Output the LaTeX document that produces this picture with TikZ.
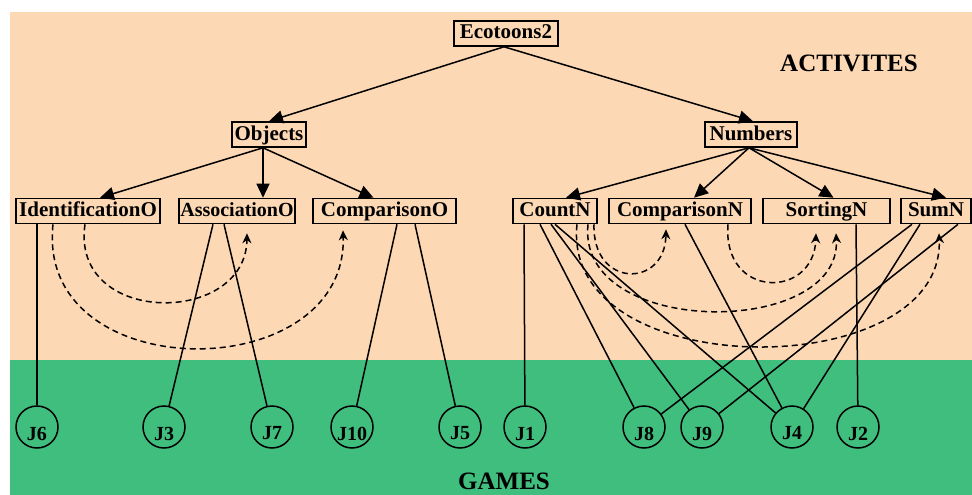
\documentclass[tikz,border=0pt]{standalone}
\usepackage{fontspec}
\setmainfont{Liberation Serif}
\usetikzlibrary{arrows.meta,calc}
\definecolor{peach}{HTML}{FDD8B4}
\definecolor{gamegreen}{HTML}{40BE7E}
\begin{document}
\begin{tikzpicture}[x=1pt,y=-1pt,
  act/.style={draw, line width=1.6pt, fill=peach, inner sep=0pt, minimum height=25pt, text height=15pt, text depth=4pt, font=\fontsize{21}{24}\selectfont\bfseries},
  game/.style={draw, circle, line width=1.5pt, inner sep=0pt, minimum size=42pt},
  glabel/.style={font=\fontsize{20}{24}\selectfont\bfseries, inner sep=0pt},
  tree/.style={line width=1.5pt, -{Triangle[length=14pt,width=13pt]}},
  link/.style={line width=1.5pt},
  rel/.style={line width=1.5pt, dash pattern=on 6pt off 4pt, -{Stealth[length=10pt,width=9pt]}},
  big/.style={font=\fontsize{25}{30}\selectfont\bfseries, inner sep=0pt}
]
\useasboundingbox (0,0) rectangle (972,495);
\fill[peach] (10,12) rectangle (972,360);
\fill[gamegreen] (10,360) rectangle (972,495);

% activity boxes
\node[act, minimum width=104pt] (eco) at (506,33.5) {Ecotoons2};
\node[act, minimum width=74pt] (obj) at (269,134.5) {Objects};
\node[act, minimum width=92pt] (num) at (751,134.5) {Numbers};
\node[act, minimum width=144pt] (ido) at (88,211) {IdentificationO};
\node[act, minimum width=116pt, font=\fontsize{20}{24}\selectfont\bfseries] (aso) at (237,211) {AssociationO};
\node[act, minimum width=143pt] (cpo) at (384.5,211) {ComparisonO};
\node[act, minimum width=84pt] (cn) at (555,211) {CountN};
\node[act, minimum width=142pt] (cpn) at (680,211) {ComparisonN};
\node[act, minimum width=127pt] (srt) at (826.5,211) {SortingN};
\node[act, minimum width=70pt] (sum) at (936,211) {SumN};

% games
\foreach \n/\x in {J6/37,J3/164,J7/272,J10/352,J5/460,J1/525,J8/644,J9/702,J4/792,J2/858}{
  \node[game] (\n) at (\x,427) {};
  \node[glabel] (\n t) at ($(\n)+(0,6.5)$) {\n};
}

\node[big] (acttitle) at (849,63) {ACTIVITES};
\node[big] (gametitle) at (504,481) {GAMES};

% tree edges
\draw[tree] ($(eco.south)+(-2,0)$) -- (obj.north);
\draw[tree] ($(eco.south)+(-2,0)$) -- ($(num.north)+(2,0)$);
\draw[tree] ($(obj.south)+(-6,0)$) -- ($(ido.north)+(12,0)$);
\draw[tree] ($(obj.south)+(-6,0)$) -- ($(aso.north)+(26,0)$);
\draw[tree] ($(obj.south)+(-6,0)$) -- ($(cpo.north)+(-11,0)$);
\draw[tree] ($(num.south)+(-2,0)$) -- ($(cn.north)+(11,0)$);
\draw[tree] ($(num.south)+(-2,0)$) -- ($(cpn.north)+(14,0)$);
\draw[tree] ($(num.south)+(-2,0)$) -- ($(srt.north)+(7,0)$);
\draw[tree] ($(num.south)+(-2,0)$) -- ($(sum.north)+(10,0)$);

% activity -> game links
\draw[link] ($(ido.south)+(-51,0)$) -- (J6);
\draw[link] ($(aso.south)+(-24,0)$) -- (J3);
\draw[link] ($(aso.south)+(-13,0)$) -- (J7);
\draw[link] ($(cpo.south)+(12.5,0)$) -- (J10);
\draw[link] ($(cpo.south)+(30.5,0)$) -- (J5);
\draw[link] ($(cn.south)+(-31,0)$) -- (J1);
\draw[link] ($(cn.south)+(-15,0)$) -- (J8);
\draw[link] ($(cn.south)+(-4,0)$) -- (J9);
\draw[link] ($(cn.south)+(0,0)$) -- (J4);
\draw[link] ($(cpn.south)+(5,0)$) -- (J4);
\draw[link] ($(srt.south)+(29.5,0)$) -- (J2);
\draw[link] ($(sum.south)+(-24,0)$) -- (J8);
\draw[link] ($(sum.south)+(-16,0)$) -- (J4);
\draw[link] ($(sum.south)+(22,0)$) -- (J9);

% dashed relations
\draw[rel] ($(ido.south)+(-3,0)$) .. controls +(-15,102) and +(-1,93) .. ($(aso.south)+(10,9)$);
\draw[rel] ($(ido.south)+(-35,0)$) .. controls +(-18,164) and +(5,158) .. ($(cpo.south)+(-41.5,6)$);
\draw[rel] ($(cn.south)+(39,0)$) .. controls +(-2,64) and +(-1,59) .. ($(cpn.south)+(-14,5)$);
\draw[rel] ($(cpn.south)+(48,0)$) .. controls +(-6,75) and +(-2,66) .. ($(srt.south)+(-10.5,9)$);
\draw[rel] ($(cn.south)+(33,0)$) .. controls +(-12,114) and +(6,105) .. ($(srt.south)+(9.5,9)$);
\draw[rel] ($(cn.south)+(22,0)$) .. controls +(-17,161) and +(6,152) .. ($(sum.south)+(3,9)$);
\end{tikzpicture}
\end{document}
